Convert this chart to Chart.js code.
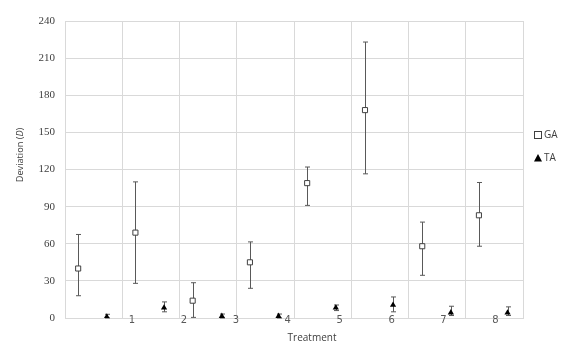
<!DOCTYPE html>
<html>
<head>
<meta charset="utf-8">
<script src="https://cdn.jsdelivr.net/npm/chart.js@4.4.0/dist/chart.umd.min.js"></script>
<style>
  html, body { margin: 0; padding: 0; background: #fff; }
  #wrap { width: 575px; height: 359px; }
</style>
</head>
<body>
<div id="wrap"><canvas id="devChart"></canvas></div>
<script>
// treatment tick labels
var treatments = ['1', '2', '3', '4', '5', '6', '7', '8'];

// GA series (open squares)
var gaX = [0.23, 1.23, 2.23, 3.23, 4.23, 5.24, 6.24, 7.23];
var gaMean = [40, 69, 14, 45, 109, 168, 58, 83];
var gaHigh = [67.5, 110, 28.5, 61.5, 122, 223, 77.5, 109.5];
var gaLow = [18, 28, 0.5, 24, 91, 116.5, 34.5, 58];

// TA series (filled triangles)
var taX = [0.73, 1.73, 2.74, 3.73, 4.73, 5.73, 6.74, 7.73];
var taMean = [1, 8.3, 1.5, 1.5, 8.3, 10.5, 4.3, 4.2];
var taHigh = [3, 13, 3.2, 3.2, 10.5, 17, 9.5, 9];
var taLow = [0, 5, 0, 0, 6, 5, 2, 2];

var yTicks = [0, 30, 60, 90, 120, 150, 180, 210, 240];

function toPoints(xs, ys) {
    return xs.map(function(x, i) { return { x: x, y: ys[i] }; });
}

// error bars drawn before the markers so the markers sit on top
var errorBars = {
    id: 'errorBars',
    beforeDatasetsDraw: function(chart) {
        var ctx = chart.ctx;
        var xs = chart.scales.x, ys = chart.scales.y;
        ctx.save();
        ctx.strokeStyle = '#595959';
        ctx.lineWidth = 1;
        chart.data.datasets.forEach(function(ds) {
            ds.data.forEach(function(p, i) {
                var px = Math.round(xs.getPixelForValue(p.x)) + 0.5;
                var top = ys.getPixelForValue(ds.errHigh[i]);
                var bot = ys.getPixelForValue(ds.errLow[i]);
                ctx.beginPath();
                ctx.moveTo(px, top); ctx.lineTo(px, bot);
                ctx.moveTo(px - 2.5, top); ctx.lineTo(px + 2.5, top);
                ctx.moveTo(px - 2.5, bot); ctx.lineTo(px + 2.5, bot);
                ctx.stroke();
            });
        });
        ctx.restore();
    }
};

// axis titles and legend
var decorations = {
    id: 'decorations',
    afterDraw: function(chart) {
        var ctx = chart.ctx;
        ctx.save();
        ctx.fillStyle = '#404040';
        ctx.textBaseline = 'middle';

        // x title
        ctx.font = '10px "Open Sans"';
        ctx.textAlign = 'center';
        ctx.fillText('Treatment', 312, 338);

        // y title with italic D
        ctx.translate(20, 155);
        ctx.rotate(-Math.PI / 2);
        var p1 = 'Deviation (', p2 = 'D', p3 = ')';
        var f1 = '9.2px "Open Sans"', f2 = 'italic 9.2px "Open Sans"';
        ctx.font = f1; var w1 = ctx.measureText(p1).width, w3 = ctx.measureText(p3).width;
        ctx.font = f2; var w2 = ctx.measureText(p2).width;
        var x0 = -(w1 + w2 + w3) / 2;
        ctx.textAlign = 'left';
        ctx.font = f1; ctx.fillText(p1, x0, 0);
        ctx.font = f2; ctx.fillText(p2, x0 + w1, 0);
        ctx.font = f1; ctx.fillText(p3, x0 + w1 + w2, 0);
        ctx.setTransform(1, 0, 0, 1, 0, 0);

        // legend
        ctx.font = '10px "Open Sans"';
        ctx.textAlign = 'left';
        var ds = chart.data.datasets;
        ctx.strokeStyle = '#404040';
        ctx.lineWidth = 1;
        ctx.fillStyle = '#fff';
        ctx.fillRect(534.5, 131.5, 7, 7);
        ctx.strokeRect(534.5, 131.5, 7, 7);
        ctx.fillStyle = '#000';
        ctx.beginPath();
        ctx.moveTo(538, 154); ctx.lineTo(542, 161.5); ctx.lineTo(534, 161.5);
        ctx.closePath(); ctx.fill();
        ctx.fillStyle = '#404040';
        ctx.fillText(ds[0].label, 544, 135.5);
        ctx.fillText(ds[1].label, 544, 158.5);
        ctx.restore();
    }
};

var ctx = document.getElementById('devChart').getContext('2d');
var devChart = new Chart(ctx, {
    type: 'scatter',
    data: {
        datasets: [{
            label: 'GA',
            data: toPoints(gaX, gaMean),
            errHigh: gaHigh,
            errLow: gaLow,
            pointStyle: 'rect',
            pointRadius: 3.6,
            pointBorderWidth: 1,
            pointBorderColor: '#404040',
            pointBackgroundColor: '#ffffff'
        }, {
            label: 'TA',
            data: toPoints(taX, taMean),
            errHigh: taHigh,
            errLow: taLow,
            pointStyle: 'triangle',
            pointRadius: 3.6,
            pointBorderWidth: 0,
            pointBorderColor: '#000000',
            pointBackgroundColor: '#000000'
        }]
    },
    options: {
        responsive: true,
        maintainAspectRatio: false,
        animation: false,
        layout: { padding: { top: 21, right: 52, left: 0, bottom: 0 } },
        plugins: {
            legend: { display: false },
            tooltip: { enabled: false }
        },
        scales: {
            x: {
                type: 'linear',
                min: 0,
                max: 8,
                position: 'bottom',
                ticks: { display: false, stepSize: 1 },
                grid: { color: '#d9d9d9', lineWidth: 1, drawTicks: false },
                border: { color: '#d9d9d9' },
                afterFit: function(scale) { scale.height = 0; }
            },
            xl: {
                type: 'linear',
                min: -0.29,
                max: 8.53,
                position: 'bottom',
                grid: { display: false, drawTicks: false },
                border: { display: false },
                afterBuildTicks: function(scale) {
                    scale.ticks = treatments.map(function(t) { return { value: Number(t) }; });
                },
                ticks: {
                    mirror: true,
                    padding: -8,
                    color: '#595959',
                    font: { family: 'DejaVu Sans', size: 10 },
                    maxRotation: 0,
                    callback: function(v) { return treatments[v - 1]; }
                },
                afterFit: function(scale) { scale.height = 41; }
            },
            y: {
                min: 0,
                max: 240,
                afterBuildTicks: function(scale) {
                    scale.ticks = yTicks.map(function(v) { return { value: v }; });
                },
                ticks: {
                    padding: 10,
                    color: '#404040',
                    font: { family: 'Liberation Serif', size: 11 }
                },
                grid: { color: '#d9d9d9', lineWidth: 1, drawTicks: false },
                border: { color: '#d9d9d9' },
                afterFit: function(scale) { scale.width = 65; }
            }
        }
    },
    plugins: [errorBars, decorations]
});
</script>
</body>
</html>
